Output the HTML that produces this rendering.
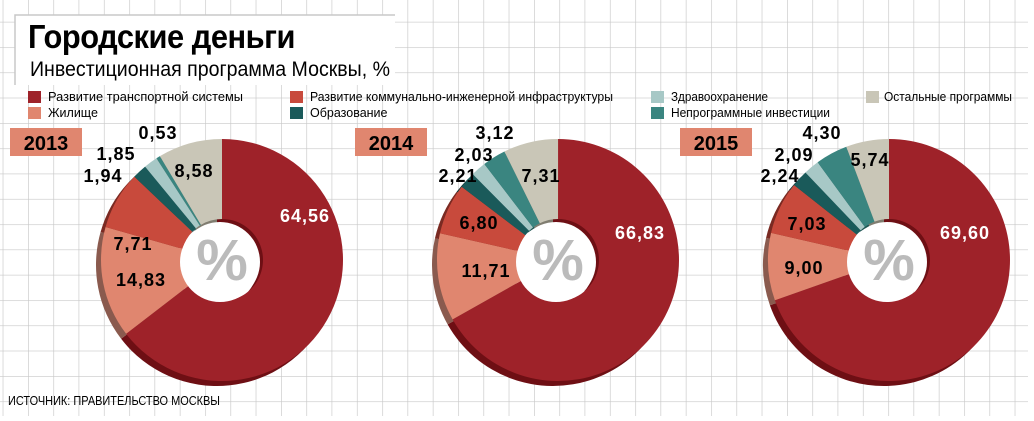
<!DOCTYPE html>
<html><head><meta charset="utf-8"><style>
body{margin:0;width:1034px;height:416px;overflow:hidden;background:#fff;font-family:"Liberation Sans",sans-serif}
</style></head><body>
<svg id="s" width="1034" height="416" xmlns="http://www.w3.org/2000/svg" font-family="Liberation Sans, sans-serif">
<defs><pattern id="g" x="2.7" y="-3.5" width="25.3" height="25.3" patternUnits="userSpaceOnUse">
<path d="M0 0H25.3M0 0V25.3" stroke="#c8c8c8" stroke-width="1.3" fill="none"/></pattern></defs>
<rect x="0" y="0" width="1028" height="416" fill="url(#g)"/>
<rect x="15" y="15" width="380" height="70" fill="#fff"/>
<path d="M15 85V15H395" stroke="#c8c8c8" stroke-width="1.5" fill="none"/>
<text x="28" y="48" font-size="33" font-weight="bold" letter-spacing="-0.5" textLength="267" lengthAdjust="spacingAndGlyphs">Городские деньги</text>
<text x="30" y="76" font-size="21" textLength="360" lengthAdjust="spacingAndGlyphs">Инвестиционная программа Москвы, %</text>
<g font-size="12.5">
<rect x="28" y="91" width="13" height="12" fill="#9e2229"/><text x="48" y="101" textLength="195" lengthAdjust="spacingAndGlyphs">Развитие транспортной системы</text>
<rect x="28" y="107" width="13" height="12" fill="#e0866f"/><text x="48" y="117">Жилище</text>
<rect x="290" y="91" width="13" height="12" fill="#c84a3c"/><text x="310" y="101" textLength="303" lengthAdjust="spacingAndGlyphs">Развитие коммунально-инженерной инфраструктуры</text>
<rect x="290" y="107" width="13" height="12" fill="#1a5a5a"/><text x="310" y="117">Образование</text>
<rect x="651" y="91" width="13" height="12" fill="#a7c8c6"/><text x="671" y="101" textLength="97" lengthAdjust="spacingAndGlyphs">Здравоохранение</text>
<rect x="651" y="107" width="13" height="12" fill="#3a8580"/><text x="671" y="117" textLength="159" lengthAdjust="spacingAndGlyphs">Непрограммные инвестиции</text>
<rect x="866" y="91" width="13" height="12" fill="#c9c6b7"/><text x="884" y="101" textLength="128" lengthAdjust="spacingAndGlyphs">Остальные программы</text>
</g>
<g id="pies"></g>
<g font-size="20" font-weight="bold">
<rect x="10" y="128" width="72" height="28" fill="#e0866f"/><text x="46" y="150" text-anchor="middle">2013</text>
<rect x="355" y="128" width="72" height="28" fill="#e0866f"/><text x="391" y="150" text-anchor="middle">2014</text>
<rect x="680" y="128" width="72" height="28" fill="#e0866f"/><text x="716" y="150" text-anchor="middle">2015</text>
</g>
<text x="8" y="405" font-size="13" textLength="212" lengthAdjust="spacingAndGlyphs">ИСТОЧНИК: ПРАВИТЕЛЬСТВО МОСКВЫ</text>
<g id="lbl" font-size="18" font-weight="bold" letter-spacing="1" text-anchor="middle"></g>
</svg>
<script>
var cols=["#9e2229","#e0866f","#c84a3c","#1a5a5a","#a7c8c6","#3a8580","#c9c6b7"];
var dark=["#6e0f14","#8a5a4e","#7a2a22","#0f3535","#6a8584","#1f5552","#807d70"];
var data=[[222,260,[64.56,14.83,7.71,1.94,1.85,0.53,8.58]],[558,260,[66.83,11.71,6.80,2.21,2.03,3.12,7.31]],[889,260,[69.60,9.00,7.03,2.24,2.09,4.30,5.74]]];
var R=121,r=41,ns="http://www.w3.org/2000/svg",g=document.getElementById("pies");
function arc(cx,cy,a0,a1){function p(a,rr){return[cx+rr*Math.sin(a),cy-rr*Math.cos(a)]}
var l=(a1-a0)>Math.PI?1:0,A=p(a0,R),B=p(a1,R),C=p(a1,r),D=p(a0,r);
return "M"+A+"A"+R+","+R+" 0 "+l+" 1 "+B+"L"+C+"A"+r+","+r+" 0 "+l+" 0 "+D+"Z";}
data.forEach(function(d){
 [[-5,5,dark],[0,0,cols]].forEach(function(o){var a=0;
  d[2].forEach(function(v,i){var b=a+v/100*2*Math.PI;var e=document.createElementNS(ns,"path");
  e.setAttribute("d",arc(d[0]+o[0],d[1]+o[1],a,b));e.setAttribute("fill",o[2][i]);g.appendChild(e);a=b;});});
 var c=document.createElementNS(ns,"circle");c.setAttribute("cx",d[0]-2);c.setAttribute("cy",d[1]+2);c.setAttribute("r",r-1);c.setAttribute("fill","#fff");g.appendChild(c);
 var t=document.createElementNS(ns,"text");t.setAttribute("x",d[0]);t.setAttribute("y",d[1]+20);t.setAttribute("font-size","58");t.setAttribute("font-weight","bold");t.setAttribute("fill","#bbb");t.setAttribute("text-anchor","middle");t.textContent="%";
 g.appendChild(t);
});
var L=[["64,56",305,216,1],["14,83",141,280],["7,71",133,244],["1,94",103,176],["1,85",116,154],["0,53",158,133],["8,58",194,171],
["66,83",640,233,1],["11,71",486,271],["6,80",479,223],["2,21",458,176],["2,03",474,155],["3,12",495,133],["7,31",541,176],
["69,60",965,233,1],["9,00",804,268],["7,03",807,224],["2,24",780,176],["2,09",794,155],["4,30",822,133],["5,74",870,160]];
var lg=document.getElementById("lbl");
L.forEach(function(l){var t=document.createElementNS(ns,"text");t.setAttribute("x",l[1]);t.setAttribute("y",l[2]+6);if(l[3])t.setAttribute("fill","#fff");t.textContent=l[0];lg.appendChild(t);});
</script>
</body></html>
